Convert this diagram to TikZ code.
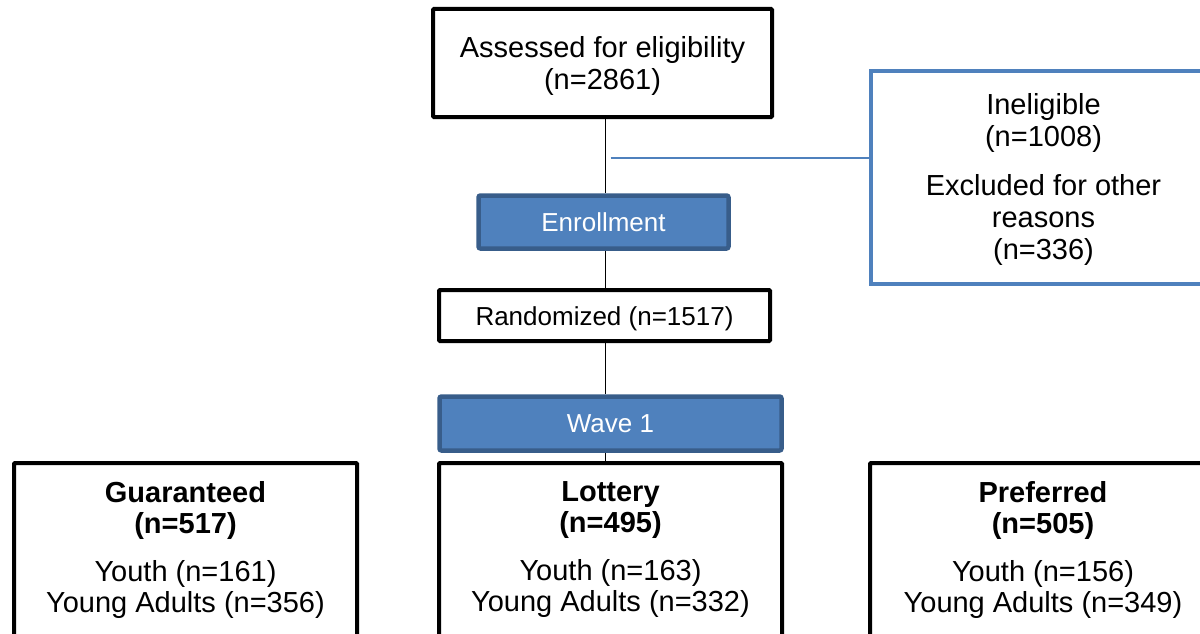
\documentclass[tikz,border=0pt]{standalone}
\usepackage{fontspec}
\setmainfont{Liberation Sans}
\definecolor{accent}{HTML}{4F81BD}
\definecolor{accentdark}{HTML}{385D8A}
\pgfdeclarelayer{bg}
\pgfsetlayers{bg,main}

\tikzset{
  blackbox/.style={draw=black, line width=4pt, fill=white, inner sep=0pt,
    align=center, rounded corners=1pt},
  bandbox/.style={draw=accentdark, fill=accent, line width=4.5pt, inner sep=0pt,
    rounded corners=2pt, text=white, font=\fontsize{26}{30}\selectfont},
  sidebox/.style={draw=accent, line width=4.5pt, fill=white, inner sep=0pt,
    align=center, font=\fontsize{29}{32}\selectfont},
  bigtext/.style={align=center, inner sep=0pt, font=\fontsize{29}{32}\selectfont},
  armtext/.style={align=center, inner sep=0pt, font=\fontsize{29}{31}\selectfont},
  conn/.style={draw=black, line width=1.5pt},
  branch/.style={draw=accent, line width=1.5pt},
}

\begin{document}
\begin{tikzpicture}[x=1pt, y=-1pt]
\useasboundingbox (0,0) rectangle (1200,634);
\clip (0,0) rectangle (1200,634);

% main column
\node[blackbox, bigtext, text depth=0pt, minimum width=339pt, minimum height=108pt]
  (assess) at (602.5,63) {Assessed for eligibility\\(n=2861)};
\node[bandbox, minimum width=250pt, minimum height=53pt] (enrol) at (603.5,222) {Enrollment};
\node[blackbox, font=\fontsize{26}{30}\selectfont, text height=19pt, text depth=0pt,
  minimum width=331pt, minimum height=51pt]
  (rand) at (604.5,315.5) {Randomized (n=1517)};
\node[bandbox, minimum width=342pt, minimum height=54pt] (wave) at (610.5,423.5) {Wave 1};

% exclusions
\node[sidebox, text depth=3pt, minimum width=345pt, minimum height=213pt] (inel) at (1043.5,177.5)
  {Ineligible\\(n=1008)\\[17pt]Excluded for other\\reasons\\(n=336)};

% study arms
\node[blackbox, minimum width=343pt, minimum height=179pt] (guar) at (185.5,552.5) {};
\node[blackbox, minimum width=343pt, minimum height=179pt] (lott) at (610.5,552.5) {};
\node[blackbox, minimum width=343pt, minimum height=179pt] (pref) at (1041.5,552.5) {};

\node[armtext] (guartxt) at (guar.center |- 0,550)
  {\textbf{Guaranteed}\\\textbf{(n=517)}\\[17pt]Youth (n=161)\\Young Adults (n=356)};
\node[armtext] (lotttxt) at (lott.center |- 0,550)
  {\textbf{Lottery}\\\textbf{(n=495)}\\[17pt]Youth (n=163)\\Young Adults (n=332)};
\node[armtext] (preftxt) at (1043,550)
  {\textbf{Preferred}\\\textbf{(n=505)}\\[17pt]Youth (n=156)\\Young Adults (n=349)};

% connectors
\coordinate (spine) at (605.5,0);
\coordinate (tap) at (610.5,158);
\begin{pgfonlayer}{bg}
  \draw[conn] (assess.south -| spine) -- (enrol.north -| spine);
  \draw[conn] (enrol.south -| spine) -- (rand.north -| spine);
  \draw[conn] (rand.south -| spine) -- (wave.north -| spine);
  \draw[conn] (wave.south -| spine) -- (lott.north -| spine);
  \draw[branch] (tap) -- (tap -| inel.west);
\end{pgfonlayer}
\end{tikzpicture}
\end{document}
